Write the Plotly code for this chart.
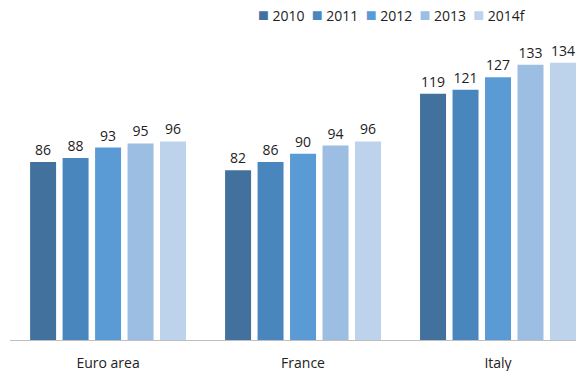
import plotly.graph_objects as go

categories = ["Euro area", "France", "Italy"]
series_names = ["2010", "2011", "2012", "2013", "2014f"]
values = {
    "2010": [86, 82, 119],
    "2011": [88, 86, 121],
    "2012": [93, 90, 127],
    "2013": [95, 94, 133],
    "2014f": [96, 96, 134],
}
colors = ["#41719c", "#4a86be", "#5b9bd5", "#9cbee3", "#bdd3ec"]

fig = go.Figure()
for name, col in zip(series_names, colors):
    fig.add_trace(go.Bar(
        x=categories, y=values[name], name=name,
        marker=dict(color=col, line=dict(width=0)),
        text=[str(v) for v in values[name]], textposition="outside",
        textfont=dict(size=14, color="#222222"),
        cliponaxis=True, showlegend=False,
    ))

legend_text = "&nbsp;&nbsp;".join(
    f"<span style='color:{c};font-size:18px'>■</span>&nbsp;{n}"
    for n, c in zip(series_names, colors)
)
fig.add_annotation(
    text=legend_text, xref="paper", yref="paper", x=0.675, y=1.087,
    xanchor="center", yanchor="middle", showarrow=False,
    font=dict(size=14, color="#222222", family="Open Sans"),
)

fig.update_layout(
    width=576, height=371,
    margin=dict(l=10, r=0, t=40, b=31),
    barmode="group", bargap=0.167, bargroupgap=0.2,
    paper_bgcolor="white", plot_bgcolor="white",
    font=dict(family="Open Sans", size=13, color="#222222"),
    showlegend=False,
)
fig.update_xaxes(range=[-0.503, 2.4], showline=True, linecolor="#bfbfbf", linewidth=1,
                 ticks="", showgrid=False, tickfont=dict(size=14), ticklabelstandoff=10)
fig.update_yaxes(range=[0, 145], visible=False)

fig.write_html("out.html")
